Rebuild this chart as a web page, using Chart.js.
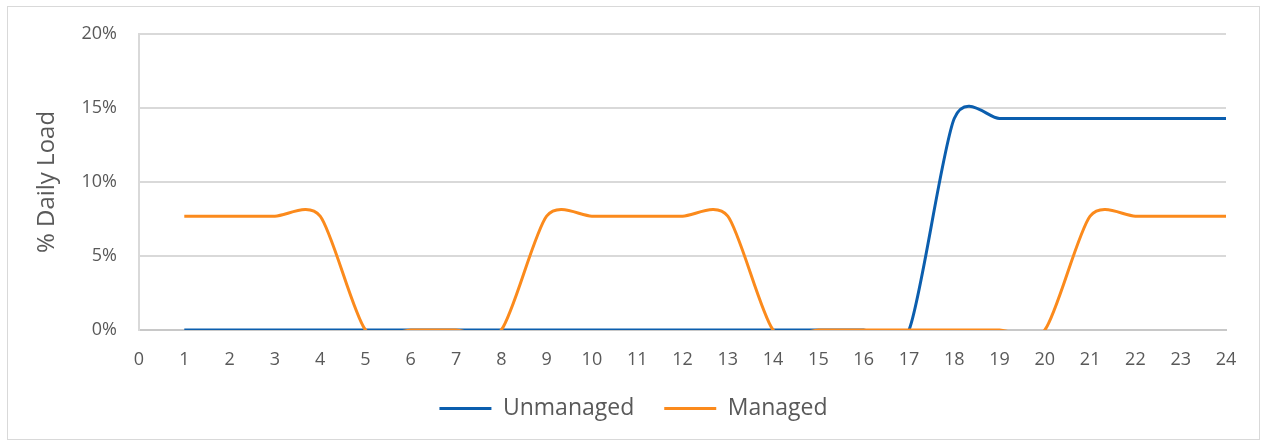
<!DOCTYPE html>
<html>
<head>
<meta charset="utf-8">
<script src="https://cdn.jsdelivr.net/npm/chart.js@4"></script>
<style>
    body { margin: 0; background: #fff; }
    #frame {
        position: absolute;
        left: 7px;
        top: 6px;
        width: 1253px;
        height: 434px;
        border: 1px solid #d9d9d9;
        box-sizing: border-box;
    }
</style>
</head>
<body>
<div id="frame"><canvas id="loadChart"></canvas></div>
<script>
const hours = [1, 2, 3, 4, 5, 6, 7, 8, 9, 10, 11, 12, 13, 14, 15, 16, 17, 18, 19, 20, 21, 22, 23, 24];
const unmanaged = [0, 0, 0, 0, 0, 0, 0, 0, 0, 0, 0, 0, 0, 0, 0, 0, 0, 14.29, 14.29, 14.29, 14.29, 14.29, 14.29, 14.29];
const managed = [7.69, 7.69, 7.69, 7.69, 0, 0, 0, 0, 7.69, 7.69, 7.69, 7.69, 7.69, 0, 0, 0, 0, 0, 0, 0, 7.69, 7.69, 7.69, 7.69];
const yTicks = [0, 5, 10, 15, 20];

const textColor = '#595959';
const font = 'Open Sans, sans-serif';
const smoothing = 0.13;

const toPoints = values => hours.map((h, i) => ({ x: h, y: values[i] }));

// spreadsheet-style smoothing: symmetric control points from the neighbours
const spreadsheetCurve = {
    id: 'spreadsheetCurve',
    beforeDatasetDraw(chart, args) {
        const line = args.meta.dataset;
        const pts = args.meta.data;
        line.updateControlPoints(chart.chartArea, 'x');
        pts.forEach((p, i) => {
            const prev = pts[i - 1] || p;
            const next = pts[i + 1] || p;
            const dx = (next.x - prev.x) * smoothing;
            const dy = (next.y - prev.y) * smoothing;
            p.cp1x = p.x - dx;
            p.cp1y = p.y - dy;
            p.cp2x = p.x + dx;
            p.cp2y = p.y + dy;
        });
        line._path = undefined;
    }
};

new Chart(document.getElementById('loadChart'), {
    type: 'line',
    data: {
        datasets: [{
            label: 'Unmanaged',
            data: toPoints(unmanaged),
            borderColor: '#0b5eae',
            backgroundColor: '#0b5eae',
            borderWidth: 3,
            pointRadius: 0,
            tension: 0.4,
            order: 1
        }, {
            label: 'Managed',
            data: toPoints(managed),
            borderColor: '#fb8a1c',
            backgroundColor: '#fb8a1c',
            borderWidth: 3,
            pointRadius: 0,
            tension: 0.4,
            order: 0
        }]
    },
    plugins: [spreadsheetCurve],
    options: {
        responsive: true,
        maintainAspectRatio: false,
        animation: false,
        layout: {
            padding: { top: 27, right: 0, bottom: 9, left: 0 }
        },
        scales: {
            x: {
                type: 'linear',
                min: 0,
                max: 24,
                afterFit: scale => {
                    scale.height = 37;
                    scale.paddingRight = 33;
                },
                grid: { display: false, drawTicks: false },
                border: { display: true, color: '#c8c8c8', width: 2 },
                ticks: {
                    stepSize: 1,
                    padding: 19,
                    color: textColor,
                    font: { family: font, size: 18 }
                }
            },
            y: {
                min: 0,
                max: 20,
                afterFit: scale => {
                    scale.width = 131;
                    scale.paddingTop = 0;
                },
                afterBuildTicks: scale => {
                    scale.ticks = yTicks.map(v => ({ value: v }));
                },
                grid: { color: '#d9d9d9', lineWidth: 2, drawTicks: false },
                border: { display: true, color: '#d9d9d9', width: 2 },
                ticks: {
                    padding: 22,
                    color: textColor,
                    font: { family: font, size: 18 },
                    callback: value => value + '%'
                },
                title: {
                    display: true,
                    text: '% Daily Load',
                    color: textColor,
                    font: { family: font, size: 24 },
                    padding: { top: 25, bottom: 0 }
                }
            }
        },
        plugins: {
            legend: {
                position: 'bottom',
                labels: {
                    usePointStyle: true,
                    pointStyle: 'line',
                    pointStyleWidth: 52,
                    padding: 30,
                    color: textColor,
                    font: { family: font, size: 23 },
                    sort: (a, b) => a.datasetIndex - b.datasetIndex
                }
            },
            tooltip: { enabled: false }
        }
    }
});
</script>
</body>
</html>
